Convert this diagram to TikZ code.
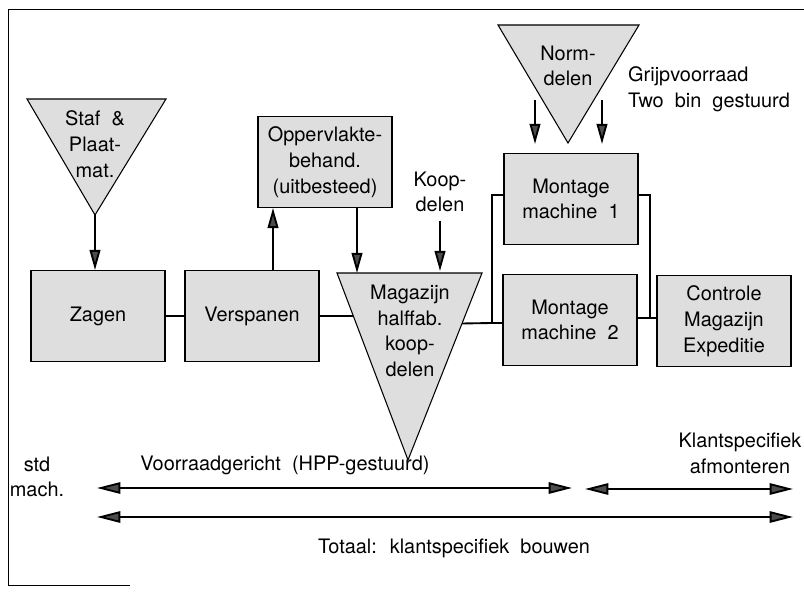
\documentclass[tikz,border=0pt]{standalone}
\usepackage{fontspec}
\setmainfont{TeX Gyre Heros}
\usetikzlibrary{positioning,calc,arrows.meta}

\begin{document}
\begin{tikzpicture}[
  x=0.03cm, y=-0.03cm,
  every node/.style={font=\fontsize{17}{22}\selectfont},
  simple node/.style={
    draw,
    fill=black!13,
    line width=0.9pt,
    inner sep=0pt,
    minimum width=4.02cm,
    minimum height=2.73cm,
    align=center,
  },
  stock/.style={
    draw,
    fill=black!13,
    line width=0.9pt,
    line join=miter,
  },
  text node/.style={align=center, inner sep=0pt},
  link/.style={line width=1.6pt},
  flow/.style={line width=1.6pt, -{Triangle[length=6mm,width=3.2mm,fill=black!70]}},
  span/.style={line width=1.6pt,
    {Triangle[length=7mm,width=3.4mm,fill=black!70]}-{Triangle[length=7mm,width=3.4mm,fill=black!70]}},
  ]
  \useasboundingbox (0,0) rectangle (804,593);

  % frame
  \draw[line width=0.8pt] (130,585) -- (8,585) -- (8,9) -- (804,9);

  % stock points
  \draw[stock] (27,99) -- (166,99) -- (95,215) coordinate (staf-tip) -- cycle;
  \node[text node] (staf) at (95,144) {Staf \ \&\\Plaat-\\mat.};
  \draw[stock] (498,25) -- (639,25) -- (568,143) -- cycle;
  \node[text node] (norm) at (568,66) {Norm-\\delen};
  \draw[stock] (337,273) coordinate (mag-nw) -- (482,273) coordinate (mag-ne)
    -- (408,460) coordinate (mag-tip) -- cycle;
  \node[text node] (magazijn) at (410,331) {Magazijn\\halffab.\\koop-\\delen};

  % process steps
  \node[simple node] (zagen) at (98,316) {Zagen};
  \node[simple node] (verspanen) at (252,316) {Verspanen};
  \node[simple node] (opp) at (325,162) {Oppervlakte-\\behand.\\(uitbesteed)};
  \node[simple node] (mont-1) at (571,199) {Montage\\machine \ 1};
  \node[simple node] (mont-2) at (570,320) {Montage\\machine \ 2};
  \node[simple node] (controle) at (724,321) {Controle\\Magazijn\\Expeditie};

  \node[text node] (koop) at (440,192) {Koop-\\delen};
  \node[text node,anchor=west,align=left] (grijp) at (628,89)
    {Grijpvoorraad\\Two \ bin \ gestuurd};

  % material flow
  \draw[flow] (staf-tip) -- (staf-tip |- zagen.north);
  \draw[flow] ($(verspanen.north)+(21,0)$) -- ($(opp.south)+(-52,0)$);
  \draw[flow] ($(opp.south)+(32,0)$) -- ($(mag-nw)+(20,0)$);
  \draw[flow] (koop.south) ++(0,8) -- ($(mag-nw)+(103,-2)$);
  \draw[flow] ($(mont-1.north)+(-36,-53)$) -- ($(mont-1.north)+(-36,-9)$);
  \draw[flow] ($(mont-1.north)+(31,-53)$) -- ($(mont-1.north)+(31,-9)$);

  \draw[link] (zagen.east) -- (verspanen.west);
  \draw[link] (verspanen.east) -- ($(mag-nw)!0.23!(mag-tip)$);
  \coordinate (bus-l) at (492,323);
  \coordinate (bus-r) at (650,318);
  \draw[link] ($(mag-ne)!0.27!(mag-tip)$) -- (bus-l) -- (mont-2.west |- bus-l);
  \draw[link] (bus-l) -- (bus-l |- 0,195) -- (mont-1.west |- 0,195);
  \draw[link] (mont-1.east |- 0,195) -- (bus-r |- 0,195) -- (bus-r);
  \draw[link] (mont-2.east |- bus-r) -- (controle.west |- bus-r);

  % order decoupling
  \node[text node] (std) at (37,477) {std\\mach.};
  \node[text node] (voorraad) at (285,465) {Voorraadgericht \ (HPP-gestuurd)};
  \node[text node] (klant) at (740,453) {Klantspecifiek\\afmonteren};
  \node[text node] (totaal) at (454,548) {Totaal: \ klantspecifiek \ bouwen};

  \coordinate (vr-l) at (97,488);
  \coordinate (vr-r) at (572,488);
  \coordinate (kl-l) at (585,489);
  \coordinate (kl-r) at (793,489);
  \coordinate (tot-l) at (97,517);
  \coordinate (tot-r) at (793,517);
  \draw[span] (vr-l) -- (vr-r);
  \draw[span] (kl-l) -- (kl-r);
  \draw[span] (tot-l) -- (tot-r);
\end{tikzpicture}
\end{document}
